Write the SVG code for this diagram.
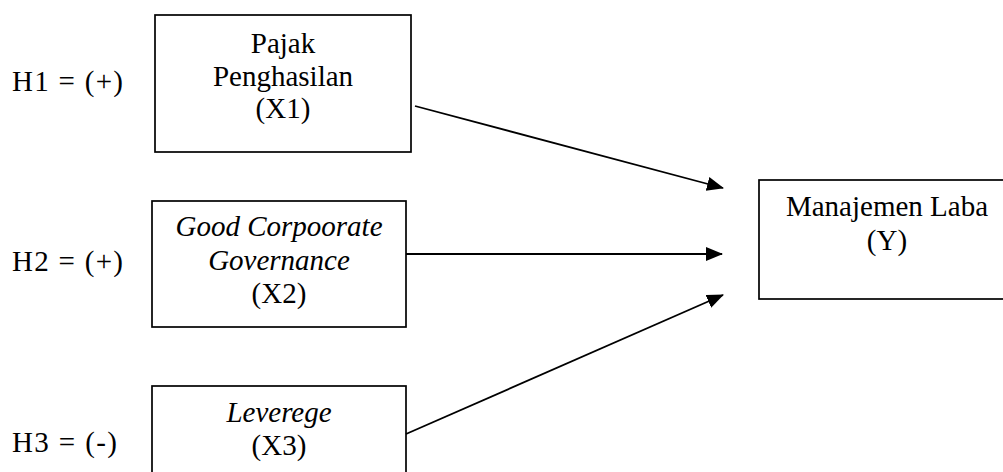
<svg xmlns="http://www.w3.org/2000/svg" width="1003" height="472" viewBox="0 0 1003 472">
<style>
.box{fill:#fff;stroke:#000;stroke-width:1.7}
.t{font-family:"Liberation Serif","Times New Roman",serif;font-size:29px;fill:#000;text-anchor:middle}
.i{font-style:italic}
.h{font-family:"Liberation Serif","Times New Roman",serif;font-size:29px;fill:#000}
.c{stroke:#000;stroke-width:1.8;fill:none;marker-end:url(#ah)}
</style>
<defs>
<marker id="ah" markerUnits="userSpaceOnUse" markerWidth="18" markerHeight="15" refX="16" refY="7" orient="auto" viewBox="0 0 18 15">
<path d="M0,0 L17,7 L0,14 z" fill="#000"/>
</marker>
</defs>
<rect width="1003" height="472" fill="#fff"/>
<g id="labels">
<text class="h" x="12" y="91" textLength="111" lengthAdjust="spacing">H1 = (+)</text>
<text class="h" x="12" y="271" textLength="111" lengthAdjust="spacing">H2 = (+)</text>
<text class="h" x="12" y="452" textLength="105" lengthAdjust="spacing">H3 = (-)</text>
</g>
<g id="x1">
<rect class="box" x="155" y="15" width="256" height="137"/>
<text class="t" x="283" y="53">Pajak</text>
<text class="t" x="283" y="86">Penghasilan</text>
<text class="t" x="283" y="118">(X1)</text>
</g>
<g id="x2">
<rect class="box" x="152" y="201" width="254" height="126"/>
<text class="t i" x="279" y="236">Good Corpoorate</text>
<text class="t i" x="279" y="270">Governance</text>
<text class="t" x="279" y="303">(X2)</text>
</g>
<g id="x3">
<rect class="box" x="152" y="386" width="254" height="100"/>
<text class="t i" x="279" y="422">Leverege</text>
<text class="t" x="279" y="455">(X3)</text>
</g>
<g id="y">
<rect class="box" x="759" y="180" width="260" height="119"/>
<text class="t" x="887" y="216">Manajemen Laba</text>
<text class="t" x="887" y="250">(Y)</text>
</g>
<g id="connectors">
<line class="c" x1="415" y1="106" x2="723" y2="188"/>
<line class="c" x1="406" y1="254" x2="722" y2="254"/>
<line class="c" x1="406" y1="434" x2="723" y2="295"/>
</g>
</svg>
